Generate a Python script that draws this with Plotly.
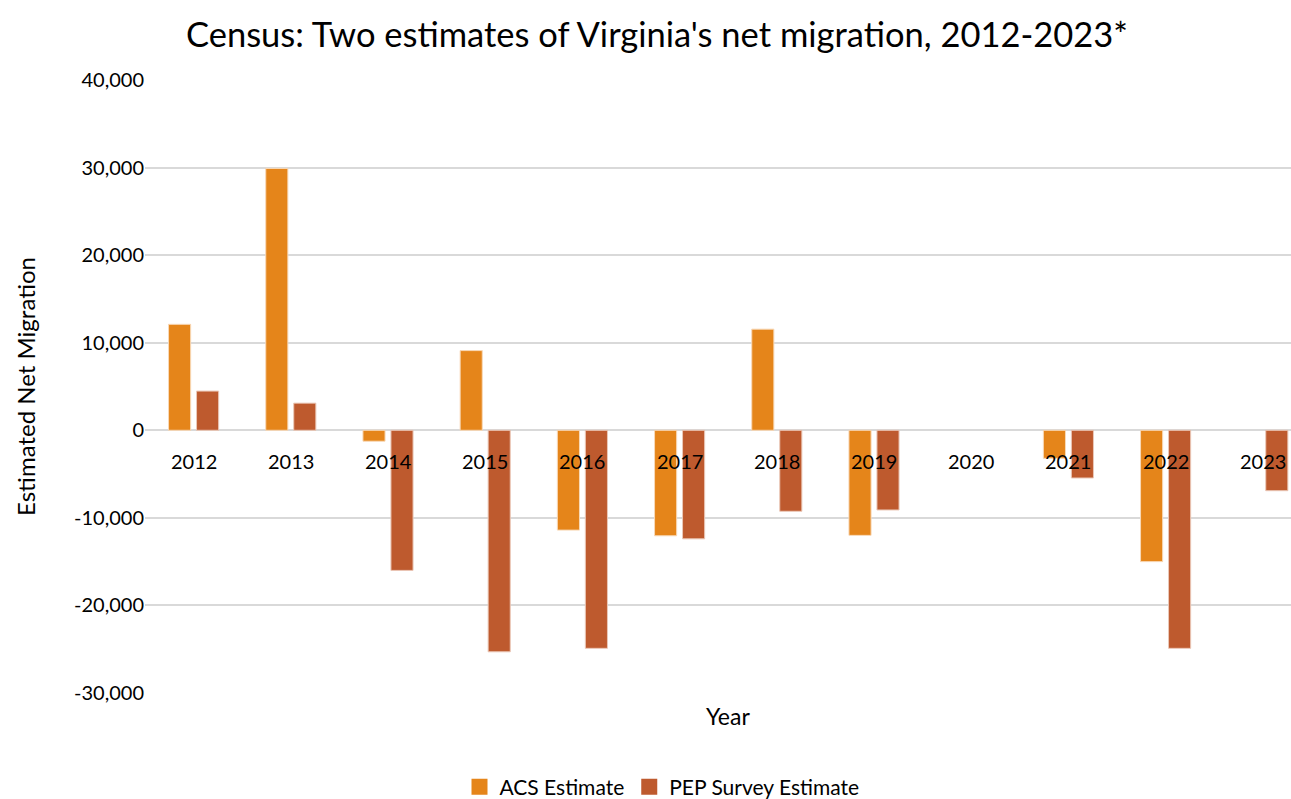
import plotly.graph_objects as go

years = ["2012", "2013", "2014", "2015", "2016", "2017", "2018", "2019", "2020", "2021", "2022", "2023"]
acs = [12100, 29900, -1250, 9100, -11400, -12050, 11550, -12000, None, -3200, -15000, None]
pep = [4480, 3100, -16000, -25300, -24900, -12400, -9250, -9100, None, -5450, -24900, -6900]
y_ticks = [-30000, -20000, -10000, 0, 10000, 20000, 30000, 40000]
y_ticktext = [f"{v:,}" for v in y_ticks]  # hyphen-minus like the original

FONT = "Lato"
ACS_COLOR = "#E5851A"
PEP_COLOR = "#BE5A2E"

fig = go.Figure()
fig.add_trace(go.Bar(x=years, y=acs, name="ACS Estimate", showlegend=False,
                     marker=dict(color=ACS_COLOR, line=dict(color="#F8D9B8", width=1))))
fig.add_trace(go.Bar(x=years, y=pep, name="PEP Survey Estimate", showlegend=False,
                     marker=dict(color=PEP_COLOR, line=dict(color="#EBC8B8", width=1))))
# legend entries with square swatches
fig.add_trace(go.Scatter(x=[None], y=[None], mode="markers", name="ACS Estimate",
                         marker=dict(symbol="square", size=16, color=ACS_COLOR)))
fig.add_trace(go.Scatter(x=[None], y=[None], mode="markers", name="PEP Survey Estimate",
                         marker=dict(symbol="square", size=16, color=PEP_COLOR)))

for i, yr in enumerate(years):
    fig.add_annotation(x=i, y=0, xref="x", yref="y", text=yr, showarrow=False,
                       yshift=-31, font=dict(family=FONT, size=20, color="#000000"))

fig.add_annotation(x=(728 - 145) / 1146, y=-(716 - 693) / 613, xref="paper", yref="paper",
                   text="Year", showarrow=False, xanchor="center", yanchor="middle",
                   font=dict(family=FONT, size=23, color="#000000"))

fig.update_layout(
    width=1291, height=799,
    margin=dict(l=145, r=0, t=80, b=106, autoexpand=False),
    paper_bgcolor="white", plot_bgcolor="white",
    barmode="group", bargap=0.424, bargroupgap=0.21,
    title=dict(text="Census: Two estimates of Virginia's net migration, 2012-2023*",
               x=657 / 1291, xanchor="center", y=1 - 35 / 799, yanchor="middle",
               automargin=False,
               font=dict(family=FONT, size=34.5, color="#000000")),
    font=dict(family=FONT, size=20, color="#000000"),
    xaxis=dict(type="category", range=[-0.5, 11.29], showticklabels=False, showgrid=False,
               zeroline=False, showline=False, ticks="", automargin=False),
    yaxis=dict(range=[-30000, 40000], tickvals=y_ticks, ticktext=y_ticktext,
               showgrid=True, gridcolor="#D9D9D9", gridwidth=1.5,
               zeroline=True, zerolinecolor="#D9D9D9", zerolinewidth=1.5,
               showline=False, ticks="", ticklen=0, automargin=False,
               tickfont=dict(family=FONT, size=20, color="#000000"),
               title=dict(text="Estimated Net Migration", standoff=31,
                          font=dict(family=FONT, size=24, color="#000000"))),
    legend=dict(orientation="h", x=(662 - 145) / 1146, xanchor="center",
                y=-(787 - 693) / 613, yanchor="middle",
                font=dict(family=FONT, size=21, color="#000000"),
                itemwidth=30, traceorder="normal"),
)

fig.write_html("out.html", config={"displayModeBar": False},
               post_script="document.body.style.margin='0px';document.body.style.overflow='hidden';")
